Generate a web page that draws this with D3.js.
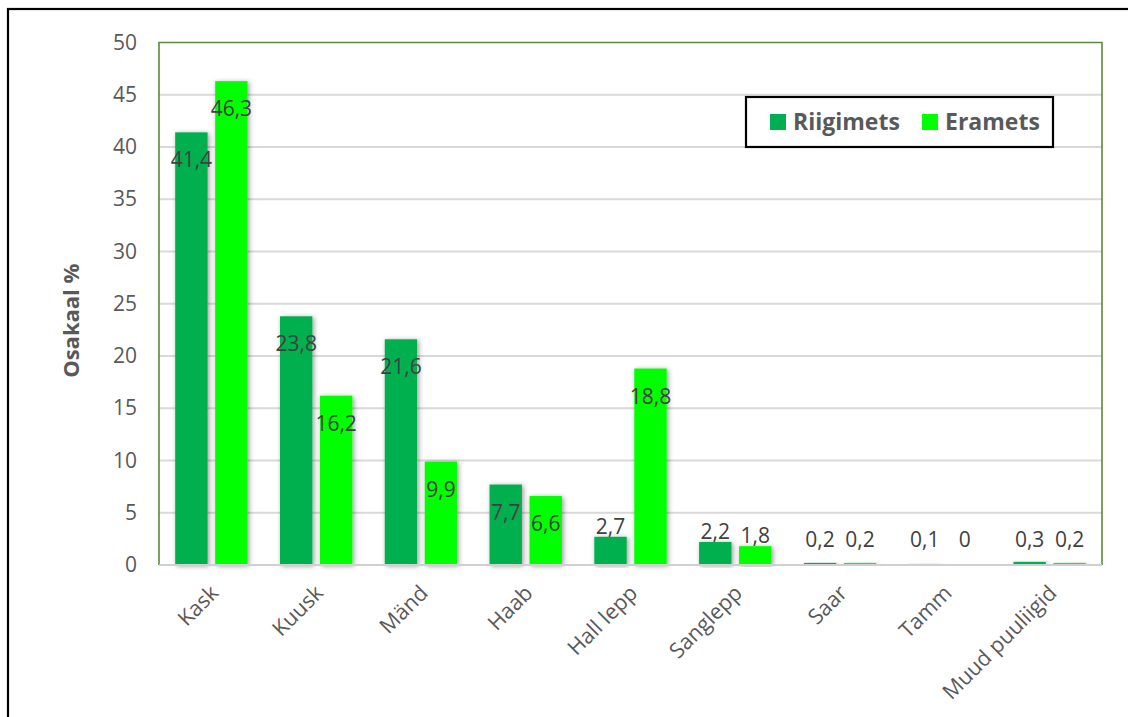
<!DOCTYPE html>
<html>
<head>
<meta charset="utf-8">
<script src="https://cdn.jsdelivr.net/npm/d3@7"></script>
<style>
  body { margin: 0; background: #fff; }
  svg text { font-family: "Open Sans", sans-serif; }
</style>
</head>
<body>
<div id="chart"></div>
<script>
// Puuliikide osakaal, riigimets vs eramets

const categories = ['Kask', 'Kuusk', 'Mänd', 'Haab', 'Hall lepp', 'Sanglepp', 'Saar', 'Tamm', 'Muud puuliigid']
const series = ['Riigimets', 'Eramets']
const riigimets = [41.4, 23.8, 21.6, 7.7, 2.7, 2.2, 0.2, 0.1, 0.3]
const eramets = [46.3, 16.2, 9.9, 6.6, 18.8, 1.8, 0.2, 0, 0.2]
const yTicks = [0, 5, 10, 15, 20, 25, 30, 35, 40, 45, 50]
const colors = { 'Riigimets': '#00b050', 'Eramets': '#00ff00' }

const dims = { width: 1128, height: 717 }
const plot = { left: 159, right: 1102, top: 42.5, bottom: 565 }

const svg = d3.select('#chart')
    .append('svg')
    .attr('width', dims.width)
    .attr('height', dims.height)

// bar shadow
const defs = svg.append('defs')
defs.append('filter')
    .attr('id', 'shadow')
    .attr('x', '-40%').attr('y', '-10%')
    .attr('width', '180%').attr('height', '120%')
    .append('feDropShadow')
    .attr('dx', 1.5).attr('dy', 1)
    .attr('stdDeviation', 2.5)
    .attr('flood-color', '#000')
    .attr('flood-opacity', 0.4)

// outer frame
svg.append('rect')
    .attr('x', 8).attr('y', 9)
    .attr('width', 1140).attr('height', 730)
    .attr('fill', '#fff')
    .attr('stroke', '#000')
    .attr('stroke-width', 2.2)

const x0 = d3.scaleBand()
    .domain(categories)
    .range([plot.left, plot.right])

const x1 = d3.scaleBand()
    .domain(series)
    .range([0, x0.bandwidth()])
    .paddingInner(0.19)
    .paddingOuter(0.405)

const y = d3.scaleLinear()
    .domain([0, 50])
    .range([plot.bottom, plot.top])

// gridlines
svg.append('g')
    .selectAll('line')
    .data(yTicks.filter(d => d > 0 && d < 50))
    .join('line')
    .attr('x1', plot.left).attr('x2', plot.right)
    .attr('y1', d => y(d)).attr('y2', d => y(d))
    .attr('stroke', '#d9d9d9')
    .attr('stroke-width', 1.8)

// plot area border (green on top, left, right)
svg.append('path')
    .attr('d', `M${plot.left},${plot.bottom} V${plot.top} H${plot.right} V${plot.bottom}`)
    .attr('fill', 'none')
    .attr('stroke', '#5b8a3a')
    .attr('stroke-width', 1.6)

const rows = categories.map((c, i) => ({
    cat: c,
    values: [
        { key: 'Riigimets', value: riigimets[i] },
        { key: 'Eramets', value: eramets[i] }
    ]
}))

const groups = svg.append('g')
    .selectAll('g')
    .data(rows)
    .join('g')
    .attr('transform', d => `translate(${x0(d.cat)},0)`)

groups.selectAll('rect')
    .data(d => d.values)
    .join('rect')
    .attr('x', d => x1(d.key))
    .attr('y', d => y(d.value))
    .attr('width', x1.bandwidth())
    .attr('height', d => y(0) - y(d.value))
    .attr('fill', d => colors[d.key])
    .attr('filter', d => d.value > 0.05 ? 'url(#shadow)' : null)

// x axis line
svg.append('line')
    .attr('x1', plot.left).attr('x2', plot.right)
    .attr('y1', plot.bottom).attr('y2', plot.bottom)
    .attr('stroke', '#d0d0d0')
    .attr('stroke-width', 2)

// data labels - inside end, pushed above when bar is too short
groups.selectAll('.val')
    .data(d => d.values)
    .join('text')
    .classed('val', true)
    .attr('x', d => x1(d.key) + x1.bandwidth() / 2)
    .attr('y', d => {
        let top = y(d.value)
        if (y(0) - top > 40) return top + 35
        return Math.min(top - 3, 547)
    })
    .attr('text-anchor', 'middle')
    .attr('font-size', 21)
    .attr('fill', '#404040')
    .text(d => String(d.value).replace('.', ','))

// y axis
const yAxis = svg.append('g')
    .attr('transform', `translate(${plot.left},0)`)
    .call(d3.axisLeft(y).tickValues(yTicks).tickSize(0).tickPadding(22))
yAxis.select('.domain').remove()
yAxis.selectAll('text')
    .attr('font-family', '"Open Sans", sans-serif')
    .attr('font-size', 21)
    .attr('fill', '#595959')

// x labels
svg.append('g')
    .selectAll('text')
    .data(categories)
    .join('text')
    .attr('transform', d => `translate(${x0(d) + x0.bandwidth() / 2 + 3},${plot.bottom + 24}) rotate(-45)`)
    .attr('text-anchor', 'end')
    .attr('dy', '0.35em')
    .attr('font-size', 21.5)
    .attr('fill', '#595959')
    .text(d => d)

// y title
svg.append('text')
    .attr('transform', `translate(79,${(plot.top + plot.bottom) / 2 + 17}) rotate(-90)`)
    .attr('text-anchor', 'middle')
    .attr('font-size', 22)
    .attr('font-weight', 'bold')
    .attr('fill', '#595959')
    .text('Osakaal %')

// legend
const legendG = svg.append('g')
legendG.append('rect')
    .attr('x', 746).attr('y', 97)
    .attr('width', 307).attr('height', 50)
    .attr('fill', '#fff')
    .attr('stroke', '#000')
    .attr('stroke-width', 2.2)

const legItems = legendG.selectAll('.leg')
    .data(series)
    .join('g')
    .classed('leg', true)
    .attr('transform', (d, i) => `translate(${[770, 922][i]},114)`)

legItems.append('rect')
    .attr('width', 16).attr('height', 16)
    .attr('fill', d => colors[d])

legItems.append('text')
    .attr('x', 23)
    .attr('y', 16)
    .attr('font-size', 23)
    .attr('font-weight', 'bold')
    .attr('fill', '#595959')
    .text(d => d)
</script>
</body>
</html>
